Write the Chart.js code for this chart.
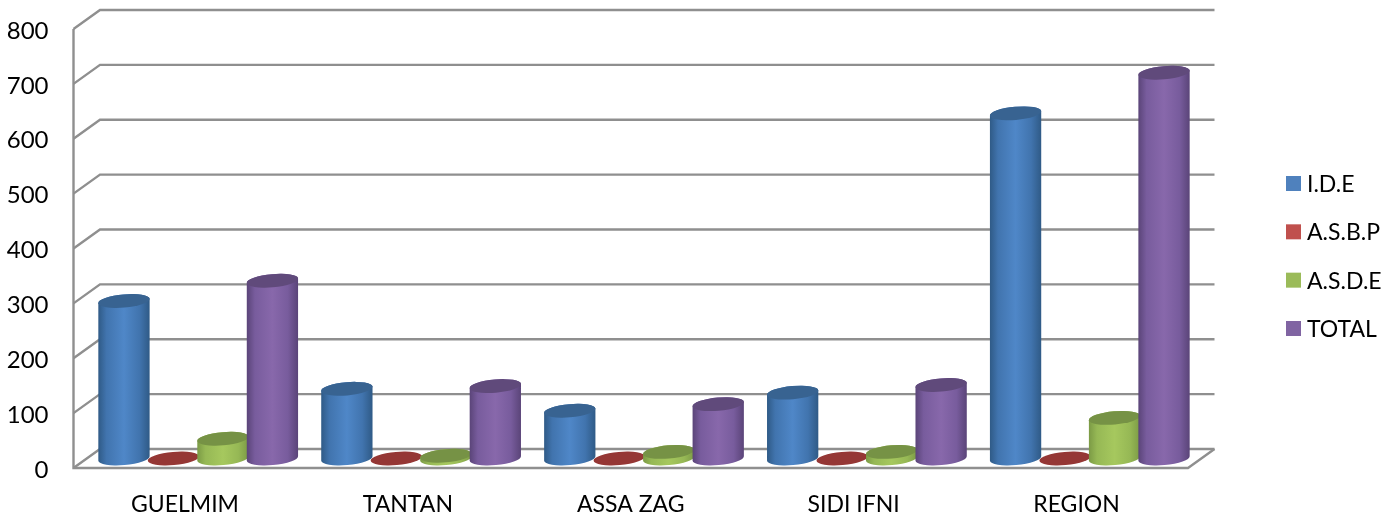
<!DOCTYPE html>
<html>
<head>
<meta charset="utf-8">
<style>
  html, body { margin: 0; padding: 0; background: #fff; }
  canvas { display: block; }
</style>
<script src="https://cdn.jsdelivr.net/npm/chart.js@4"></script>
</head>
<body>
<canvas id="chart" width="1400" height="515"></canvas>
<script>
// data
const categories = ["GUELMIM", "TANTAN", "ASSA ZAG", "SIDI IFNI", "REGION"];
const seriesNames = ["I.D.E", "A.S.B.P", "A.S.D.E", "TOTAL"];
const ide = [287, 127, 87, 120, 629];
const asbp = [0, 0, 0, 0, 0];
const asde = [36, 5, 12, 12, 74];
const total = [324, 132, 99, 134, 703];
const yTicks = [0, 100, 200, 300, 400, 500, 600, 700, 800];

const legendColors = ["#4F81BD", "#C0504D", "#9BBB59", "#8064A2"];
// edge, mid, light, top cap
const shades = [
  ["#2f5a86", "#4174ae", "#4f87c8", "#386391"],
  ["#8a3230", "#a03c3a", "#c0504d", "#953735"],
  ["#7b9a45", "#96b855", "#a6c85e", "#769245"],
  ["#5a4478", "#785c9d", "#8868ab", "#604a7b"]
];

const FONT = "Lato, Carlito, 'Open Sans', sans-serif";
const DEPTH_X = 26.5;
const DEPTH_Y = 19;
const TILT = -5 * Math.PI / 180;

function drawWalls(ctx, chart) {
  const y = chart.scales.y;
  const left = chart.chartArea.left;
  const right = chart.chartArea.right;
  const zero = y.getPixelForValue(0);

  ctx.strokeStyle = "#8f8f8f";
  ctx.lineWidth = 2.4;

  yTicks.forEach(function (v) {
    let py = y.getPixelForValue(v);
    ctx.beginPath();
    ctx.moveTo(left, py);
    ctx.lineTo(left + DEPTH_X, py - DEPTH_Y);
    ctx.lineTo(right + DEPTH_X, py - DEPTH_Y);
    ctx.stroke();
  });

  // left axis, floor front edge and its right side
  ctx.beginPath();
  ctx.moveTo(left, y.getPixelForValue(800));
  ctx.lineTo(left, zero);
  ctx.lineTo(right, zero);
  ctx.lineTo(right + DEPTH_X, zero - DEPTH_Y);
  ctx.stroke();
}

function drawCylinder(ctx, bar, shade) {
  let cx = bar.x + DEPTH_X / 2;
  let topY = bar.y - DEPTH_Y / 2;
  let baseY = bar.base - DEPTH_Y / 2;
  let rx = bar.width / 2 + 1;
  let ry = 6.6;

  if (baseY - topY > 0.5) {
    let grad = ctx.createLinearGradient(cx - rx, 0, cx + rx, 0);
    grad.addColorStop(0, shade[0]);
    grad.addColorStop(0.16, shade[1]);
    grad.addColorStop(0.5, shade[2]);
    grad.addColorStop(0.8, shade[1]);
    grad.addColorStop(1, shade[0]);

    ctx.fillStyle = grad;
    ctx.beginPath();
    ctx.ellipse(cx, baseY, rx, ry, TILT, 0, Math.PI);
    ctx.ellipse(cx, topY, rx, ry, TILT, Math.PI, 2 * Math.PI);
    ctx.closePath();
    ctx.fill();
  }

  ctx.fillStyle = shade[3];
  ctx.beginPath();
  ctx.ellipse(cx, topY, rx, ry, TILT, 0, 2 * Math.PI);
  ctx.fill();
}

function drawLegend(ctx) {
  ctx.font = "23px " + FONT;
  ctx.textAlign = "left";
  ctx.textBaseline = "middle";
  seriesNames.forEach(function (name, i) {
    let ly = 183.5 + i * 48.33;
    ctx.fillStyle = legendColors[i];
    ctx.fillRect(1286, ly - 7.5, 15, 15);
    ctx.fillStyle = "#000";
    ctx.fillText(name, 1307, ly + 1);
  });
}

// the bars are laid out by Chart.js, this only paints them as cylinders
const cylinders = {
  id: "cylinders",
  beforeDatasetsDraw(chart) {
    let ctx = chart.ctx;
    ctx.save();
    drawWalls(ctx, chart);
    categories.forEach(function (c, j) {
      chart.data.datasets.forEach(function (d, i) {
        drawCylinder(ctx, chart.getDatasetMeta(i).data[j], shades[i]);
      });
    });
    drawLegend(ctx);
    ctx.restore();
    return false;
  }
};

new Chart(document.getElementById("chart"), {
  type: "bar",
  data: {
    labels: categories,
    datasets: [ide, asbp, asde, total].map(function (values, i) {
      return {
        label: seriesNames[i],
        data: values,
        backgroundColor: legendColors[i],
        barPercentage: 1,
        categoryPercentage: 0.888
      };
    })
  },
  options: {
    responsive: false,
    animation: false,
    layout: {
      autoPadding: false,
      padding: { top: 29, right: 212, left: 0, bottom: 0 }
    },
    plugins: {
      legend: { display: false },
      tooltip: { enabled: false }
    },
    scales: {
      x: {
        grid: { display: false },
        border: { display: false },
        afterFit(scale) {
          scale.height = 47;
          scale.paddingLeft = 0;
          scale.paddingRight = 0;
        },
        ticks: {
          color: "#000",
          font: { family: FONT, size: 23 },
          padding: 15,
          maxRotation: 0
        }
      },
      y: {
        min: 0,
        max: 800,
        grid: { display: false },
        border: { display: false },
        afterFit(scale) {
          scale.width = 73.5;
          scale.paddingTop = 0;
          scale.paddingBottom = 0;
        },
        ticks: {
          stepSize: 100,
          color: "#000",
          font: { family: FONT, size: 24 },
          padding: 17,
          labelOffset: 2
        }
      }
    }
  },
  plugins: [cylinders]
});
</script>
</body>
</html>
